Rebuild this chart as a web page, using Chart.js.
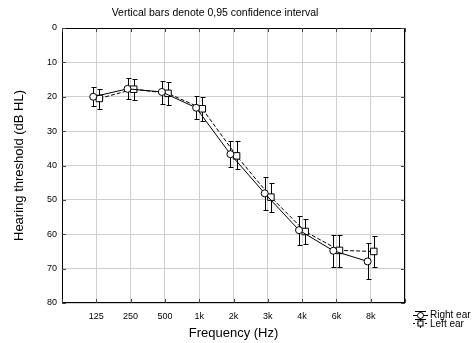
<!DOCTYPE html>
<html>
<head>
<meta charset="utf-8">
<script src="https://cdn.jsdelivr.net/npm/chart.js@4/dist/chart.umd.min.js"></script>
<style>
  body { margin: 0; background: #fff; }
  canvas { display: block; }
</style>
</head>
<body>
<canvas id="myChart" width="474" height="343"></canvas>
<script>
// frequency categories
const freqLabels = ['125', '250', '500', '1k', '2k', '3k', '4k', '6k', '8k'];
const yTicks = [0, 10, 20, 30, 40, 50, 60, 70, 80];

// right ear: mean and 0,95 CI
const rightMean = [20.0, 17.7, 18.6, 23.2, 36.7, 48.1, 58.8, 64.8, 67.9];
const rightLow  = [17.2, 14.6, 15.3, 19.7, 32.8, 43.4, 54.8, 60.2, 62.6];
const rightHigh = [22.7, 20.7, 22.1, 26.5, 40.3, 52.9, 63.1, 69.4, 73.1];

// left ear: mean and 0,95 CI
const leftMean = [20.5, 17.8, 19.0, 23.5, 37.2, 49.2, 59.2, 64.7, 65.0];
const leftLow  = [17.7, 14.8, 15.8, 20.0, 33.0, 45.1, 55.5, 60.2, 60.4];
const leftHigh = [23.6, 20.8, 22.4, 27.2, 41.0, 53.4, 62.9, 69.4, 69.6];

const shift = 0.09; // small side offset so the two ears don't overlap

function toPoints(vals, off) {
	var pts = [];
	for (var i = 0; i < vals.length; i++) {
		pts.push({ x: i + 1 + off, y: vals[i] });
	}
	return pts;
}

// frame, inner tick marks and error bars
const extras = {
	id: 'extras',
	beforeDatasetsDraw: function(chart) {
		var ctx = chart.ctx;
		var a = chart.chartArea;
		var xs = chart.scales.x, ys = chart.scales.y;
		ctx.save();
		ctx.strokeStyle = '#000';
		ctx.lineWidth = 1;
		ctx.strokeRect(a.left + 0.5, a.top + 0.5, a.right - a.left - 1, a.bottom - a.top - 1);

		ctx.strokeStyle = '#444';
		ctx.beginPath();
		for (var i = 0; i <= 10; i++) {
			var px = Math.round(xs.getPixelForValue(i)) + 0.5;
			ctx.moveTo(px, a.top); ctx.lineTo(px, a.top + 4);
			ctx.moveTo(px, a.bottom); ctx.lineTo(px, a.bottom - 4);
		}
		yTicks.forEach(function(v) {
			var py = Math.round(ys.getPixelForValue(v)) + 0.5;
			ctx.moveTo(a.left, py); ctx.lineTo(a.left + 4, py);
			ctx.moveTo(a.right, py); ctx.lineTo(a.right - 4, py);
		});
		ctx.stroke();

		ctx.strokeStyle = '#000';
		ctx.beginPath();
		var sets = [[rightLow, rightHigh, -shift], [leftLow, leftHigh, shift]];
		sets.forEach(function(s) {
			for (var j = 0; j < s[0].length; j++) {
				var x = Math.round(xs.getPixelForValue(j + 1 + s[2])) + 0.5;
				var y1 = Math.round(ys.getPixelForValue(s[0][j])) + 0.5;
				var y2 = Math.round(ys.getPixelForValue(s[1][j])) + 0.5;
				ctx.moveTo(x, y1); ctx.lineTo(x, y2);
				ctx.moveTo(x - 2, y1); ctx.lineTo(x + 3, y1);
				ctx.moveTo(x - 2, y2); ctx.lineTo(x + 3, y2);
			}
		});
		ctx.stroke();
		ctx.restore();
	},
	afterDraw: function(chart) {
		var ctx = chart.ctx;
		ctx.save();
		ctx.fillStyle = '#000';
		ctx.font = '10.5px "Liberation Sans", Arial, sans-serif';
		ctx.textAlign = 'center';
		ctx.textBaseline = 'middle';
		ctx.fillText('Vertical bars denote 0,95 confidence interval', 215, 13);

		// legend
		ctx.font = '10px "Liberation Sans", Arial, sans-serif';
		ctx.textAlign = 'left';
		ctx.fillText('Right ear', 430, 315);
		ctx.fillText('Left ear', 430, 324);
		ctx.strokeStyle = '#000';
		ctx.lineWidth = 1;
		ctx.beginPath();
		ctx.moveTo(415, 311.5); ctx.lineTo(426, 311.5);
		ctx.moveTo(413, 315.5); ctx.lineTo(428, 315.5);
		ctx.moveTo(415, 319.5); ctx.lineTo(426, 319.5);
		ctx.moveTo(420.5, 311.5); ctx.lineTo(420.5, 328);
		ctx.stroke();
		ctx.setLineDash([2, 2]);
		ctx.beginPath();
		ctx.moveTo(413, 323.5); ctx.lineTo(428, 323.5);
		ctx.stroke();
		ctx.setLineDash([]);
		ctx.fillStyle = '#fff';
		ctx.beginPath();
		ctx.arc(420.5, 315.5, 3, 0, Math.PI * 2);
		ctx.fill(); ctx.stroke();
		ctx.fillRect(418, 321, 5, 5);
		ctx.strokeRect(418, 321, 5, 5);
		ctx.restore();
	}
};

var ctx = document.getElementById('myChart').getContext('2d');
var chart = new Chart(ctx, {
	type: 'scatter',
	data: {
		datasets: [
			{
				label: 'Right ear',
				data: toPoints(rightMean, -shift),
				showLine: true,
				borderColor: '#000',
				borderWidth: 1,
				backgroundColor: '#fff',
				pointStyle: 'circle',
				pointRadius: 3.5,
				pointBorderWidth: 1,
				pointBorderColor: '#000',
				pointBackgroundColor: '#fff'
			},
			{
				label: 'Left ear',
				data: toPoints(leftMean, shift),
				showLine: true,
				borderColor: '#000',
				borderWidth: 1,
				borderDash: [4, 2],
				backgroundColor: '#fff',
				pointStyle: 'rect',
				pointRadius: 4.6,
				pointBorderWidth: 1,
				pointBorderColor: '#000',
				pointBackgroundColor: '#fff'
			}
		]
	},
	options: {
		responsive: false,
		animation: false,
		devicePixelRatio: 1,
		layout: { padding: { top: 28, right: 69, left: 0, bottom: 0 } },
		plugins: {
			legend: { display: false },
			tooltip: { enabled: false }
		},
		scales: {
			x: {
				type: 'linear',
				min: 0,
				max: 10,
				afterFit: function(s) { s.height = 40; },
				afterBuildTicks: function(s) {
					var t = [];
					for (var i = 0; i <= 10; i++) t.push({ value: i });
					s.ticks = t;
				},
				ticks: {
					padding: 8,
					color: '#000',
					font: { family: '"Liberation Sans", Arial, sans-serif', size: 9 },
					maxRotation: 0,
					autoSkip: false,
					callback: function(v) { return freqLabels[v - 1] || ''; }
				},
				grid: { color: '#cfcfcf', lineWidth: 1, drawTicks: false },
				border: { display: false },
				title: {
					display: true,
					text: 'Frequency (Hz)',
					color: '#000',
					font: { family: '"Liberation Sans", Arial, sans-serif', size: 13 },
					padding: { top: 0, bottom: 2 }
				}
			},
			y: {
				type: 'linear',
				reverse: true,
				min: 0,
				max: 80,
				afterFit: function(s) { s.width = 62; },
				ticks: {
					stepSize: 10,
					padding: 5,
					color: '#000',
					font: { family: '"Liberation Sans", Arial, sans-serif', size: 9 }
				},
				grid: { color: '#cfcfcf', lineWidth: 1, drawTicks: false },
				border: { display: false },
				title: {
					display: true,
					text: 'Hearing threshold (dB HL)',
					color: '#000',
					font: { family: '"Liberation Sans", Arial, sans-serif', size: 13 },
					padding: { top: 12, bottom: 0 }
				}
			}
		}
	},
	plugins: [extras]
});
</script>
</body>
</html>
